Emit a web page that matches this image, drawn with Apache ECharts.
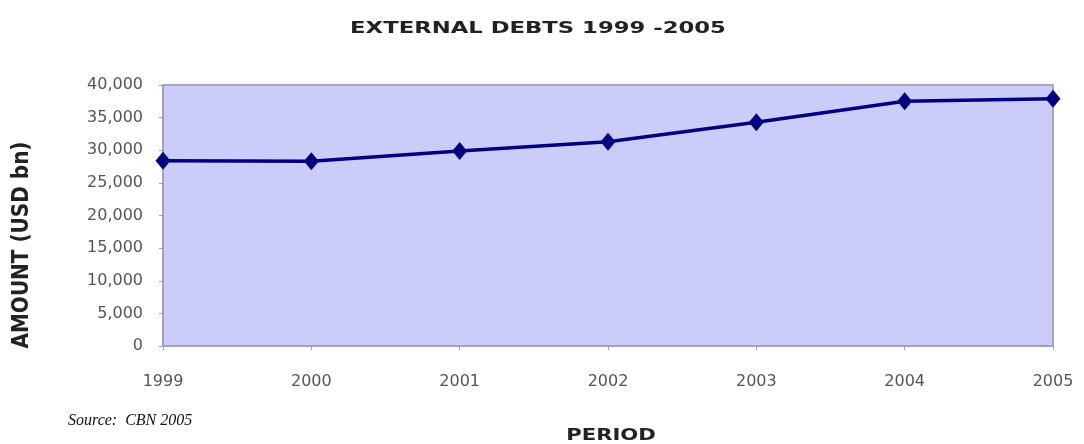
<!DOCTYPE html>
<html>
<head>
<meta charset="utf-8">
<style>
  html, body { margin: 0; padding: 0; background: #ffffff; }
  #chart { width: 1084px; height: 444px; }
</style>
<script src="https://cdn.jsdelivr.net/npm/echarts@6/dist/echarts.min.js"></script>
</head>
<body>
<div id="chart"></div>
<script>
// External debt stock by year (USD bn)
const years = ['1999', '2000', '2001', '2002', '2003', '2004', '2005'];
const debtValues = [28400, 28300, 29900, 31300, 34300, 37500, 37900];

const titleText = 'EXTERNAL DEBTS 1999 -2005';
const xAxisTitle = 'PERIOD';
const yAxisTitle = 'AMOUNT (USD bn)';
const sourceNote = 'Source:  CBN 2005';

const chart = echarts.init(document.getElementById('chart'));

const labelFont = { fontFamily: 'DejaVu Sans', fontSize: 16, color: '#555555' };

chart.setOption({
  animation: false,
  backgroundColor: '#ffffff',
  grid: {
    left: 163, right: 31, top: 85, bottom: 98,
    show: true,
    backgroundColor: '#CCCCFA',
    borderColor: '#A6A6C2',
    borderWidth: 2
  },
  xAxis: {
    type: 'category',
    data: years,
    boundaryGap: false,
    axisLine: { show: true, lineStyle: { color: '#A0A0B8', width: 2 } },
    axisTick: { show: true, length: 4, lineStyle: { color: '#A0A0B8' } },
    axisLabel: Object.assign({ margin: 28 }, labelFont),
    splitLine: { show: false }
  },
  yAxis: {
    type: 'value',
    min: 0, max: 40000, interval: 5000,
    axisLine: { show: true, lineStyle: { color: '#A0A0B8', width: 2 } },
    axisTick: { show: true, length: 4, lineStyle: { color: '#A0A0B8' } },
    axisLabel: Object.assign({
      margin: 20,
      formatter: v => v.toLocaleString('en-US')
    }, labelFont),
    splitLine: { show: false }
  },
  graphic: [
    {
      type: 'text', x: 538, y: 29, scaleX: 1.42,
      style: {
        text: titleText, textAlign: 'center', textVerticalAlign: 'middle',
        font: 'bold 16px "DejaVu Sans"', fill: '#222222'
      }
    },
    {
      type: 'text', x: 611, y: 436, scaleX: 1.32,
      style: {
        text: xAxisTitle, textAlign: 'center', textVerticalAlign: 'middle',
        font: 'bold 16px "DejaVu Sans"', fill: '#222222'
      }
    },
    {
      type: 'text', x: 22, y: 245, rotation: Math.PI / 2, scaleY: 1.15,
      style: {
        text: yAxisTitle, textAlign: 'center', textVerticalAlign: 'middle',
        font: 'bold 20px "DejaVu Sans"', fill: '#222222'
      }
    },
    {
      type: 'text', x: 68, y: 421,
      style: {
        text: sourceNote, textAlign: 'left', textVerticalAlign: 'middle',
        font: 'italic 16px "Liberation Serif"', fill: '#111111'
      }
    }
  ],
  series: [{
    type: 'line',
    data: debtValues,
    symbol: 'diamond',
    symbolSize: [15, 18],
    lineStyle: { color: '#000080', width: 3.5 },
    itemStyle: { color: '#000080' },
    z: 5
  }]
});
</script>
</body>
</html>
